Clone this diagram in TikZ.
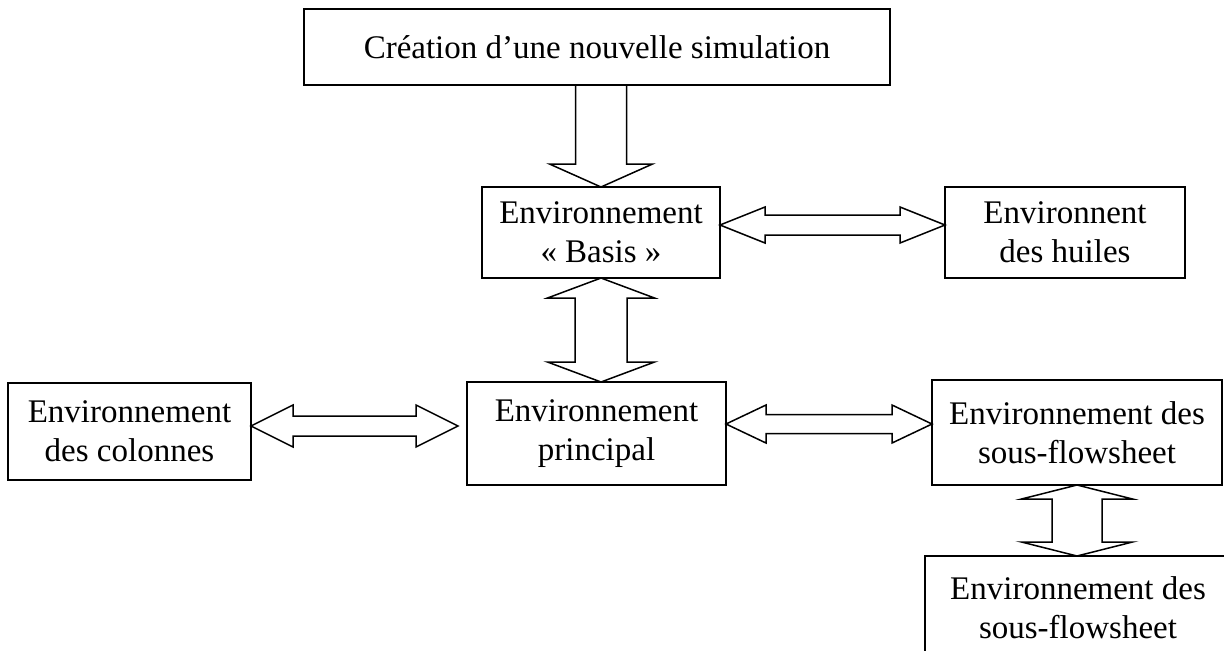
\documentclass[tikz,border=0pt]{standalone}
\usepackage{fontspec}
\setmainfont{Liberation Serif}
\usetikzlibrary{calc}
% vertical single arrow: #1 start (box bottom), #2 tip, #3 shaft half, #4 head half, #5 head length
\newcommand\vsinglearrow[5]{%
  \draw[fat] let \p1=(#1), \p2=(#2) in
    (\x2-#3,\y1) -- (\x2-#3,\y2+#5) -- (\x2-#4,\y2+#5) -- (\x2,\y2)
    -- (\x2+#4,\y2+#5) -- (\x2+#3,\y2+#5) -- (\x2+#3,\y1);}
% vertical double arrow: #1 top tip, #2 bottom tip
\newcommand\vdoublearrow[5]{%
  \draw[fat] let \p1=(#1), \p2=(#2) in
    (\x1,\y1) -- (\x1+#4,\y1-#5) -- (\x1+#3,\y1-#5) -- (\x1+#3,\y2+#5)
    -- (\x1+#4,\y2+#5) -- (\x1,\y2) -- (\x1-#4,\y2+#5) -- (\x1-#3,\y2+#5)
    -- (\x1-#3,\y1-#5) -- (\x1-#4,\y1-#5) -- cycle;}
% horizontal double arrow: #1 left tip, #2 right tip
\newcommand\hdoublearrow[5]{%
  \draw[fat] let \p1=(#1), \p2=(#2) in
    (\x1,\y1) -- (\x1+#5,\y1+#4) -- (\x1+#5,\y1+#3) -- (\x2-#5,\y1+#3)
    -- (\x2-#5,\y1+#4) -- (\x2,\y1) -- (\x2-#5,\y1-#4) -- (\x2-#5,\y1-#3)
    -- (\x1+#5,\y1-#3) -- (\x1+#5,\y1-#4) -- cycle;}
\begin{document}
\begin{tikzpicture}[x=0.5pt,y=-0.5pt,
  box/.style={draw,line width=1pt,inner sep=0pt,outer sep=0pt,align=center,
    font=\fontsize{16.5}{19.5}\selectfont},
  fat/.style={draw,line width=0.75pt,line join=miter}]
\useasboundingbox (0,0) rectangle (1224,650);
\clip (0,0) rectangle (1224,650);

\node[box,minimum width=293pt,minimum height=38pt] (top) at (597,47) {Création d’une nouvelle simulation};
\node[box,minimum width=119pt,minimum height=45.5pt] (basis) at (601,232.5) {Environnement\\« Basis »};
\node[box,minimum width=120pt,minimum height=45.5pt] (huiles) at (1065,232.5) {Environnent\\des huiles};
\node[box,minimum width=121.5pt,minimum height=48.5pt] (colonnes) at (129.5,431.5) {Environnement\\des colonnes};
\node[box,minimum width=129.5pt,minimum height=51.5pt] (principal) at (596.5,433.5) {Environnement\\principal};
\node[box,minimum width=145pt,minimum height=52.5pt] (sub) at (1077,432.5) {Environnement des\\sous-flowsheet};
\node[box,minimum width=153pt,minimum height=52pt] (bottom) at (1078,608) {Environnement des\\sous-flowsheet};

\vsinglearrow{top.south}{basis.north}{12.75pt}{25.75pt}{11.5pt}
\vdoublearrow{basis.south}{principal.north}{13pt}{26.75pt}{10pt}
\vdoublearrow{sub.south}{bottom.north}{12.5pt}{27.75pt}{7pt}
\hdoublearrow{[yshift=3.75pt]basis.east}{huiles.west}{5pt}{9pt}{22.5pt}
\hdoublearrow{[yshift=2.75pt]colonnes.east}{[xshift=-4.5pt]principal.west}{5pt}{10.5pt}{21pt}
\hdoublearrow{[yshift=4.75pt]principal.east}{sub.west}{4.75pt}{9.5pt}{20pt}
\end{tikzpicture}
\end{document}
